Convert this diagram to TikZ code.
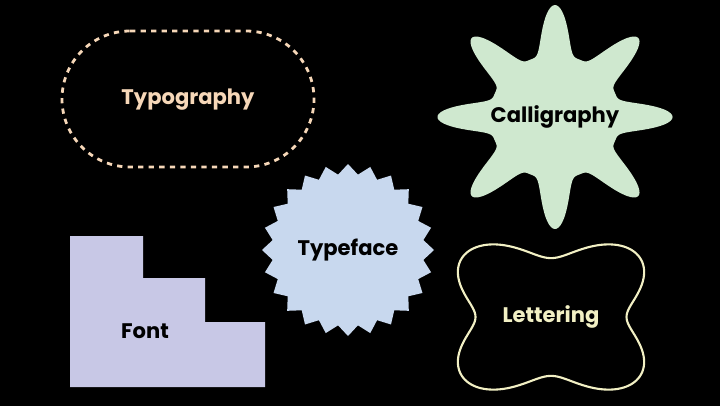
\documentclass[tikz,border=0pt]{standalone}
\usepackage{fontspec}
\setmainfont{Poppins}
\definecolor{peach}{HTML}{F6D7B8}
\definecolor{mint}{HTML}{CFE8CF}
\definecolor{skyblue}{HTML}{C8D8EE}
\definecolor{lavender}{HTML}{C8C8E6}
\definecolor{cream}{HTML}{F2F0C4}
\tikzset{
  label/.style={font=\bfseries\large, text=black},
}
\begin{document}
\begin{tikzpicture}[x=0.02cm,y=-0.02cm]
        \fill[black] (0,0) rectangle (720,406);
        % Typography
        \draw[peach, line width=1.6pt, dash pattern=on 3pt off 3pt]
            (130,31) -- (246,31) arc[start angle=-90, end angle=90, radius=68]
            -- (130,167) arc[start angle=90, end angle=270, radius=68] -- cycle;
        \node[label, text=peach] (typo) at (188,100) {Typography};
        % Calligraphy
        \fill[mint] plot[domain=0:360, samples=360, smooth cycle]
            ({555+1.05*(62+50*((1+cos(8*\x))/2)^2)*cos(\x)}, {117-(62+50*((1+cos(8*\x))/2)^2)*sin(\x)});
        \node[label] (calli) at (555,117) {Calligraphy};
        % Typeface
        \fill[skyblue] (434,250) \foreach \i in {1,...,47}{
            -- ({348+(mod(\i,2)==1 ? 76 : 86)*cos(\i*7.5)}, {250-(mod(\i,2)==1 ? 76 : 86)*sin(\i*7.5)})
            } -- cycle;
        \node[label] (face) at (348,250) {Typeface};
        % Font
        \fill[lavender] (70,236) -- (143,236) -- (143,278) -- (205,278) -- (205,322)
            -- (265,322) -- (265,387) -- (70,387) -- cycle;
        \node[label] (font) at (145,331) {Font};
        % Lettering
        \draw[cream, line width=1.2pt] plot[domain=0:360, samples=240, smooth cycle]
            ({551+118*(0.82-0.18*cos(4*\x))*cos(\x)}, {317-92*(0.82-0.18*cos(4*\x))*sin(\x)});
        \node[label, text=cream] (letter) at (551,317) {Lettering};
\end{tikzpicture}
\end{document}
